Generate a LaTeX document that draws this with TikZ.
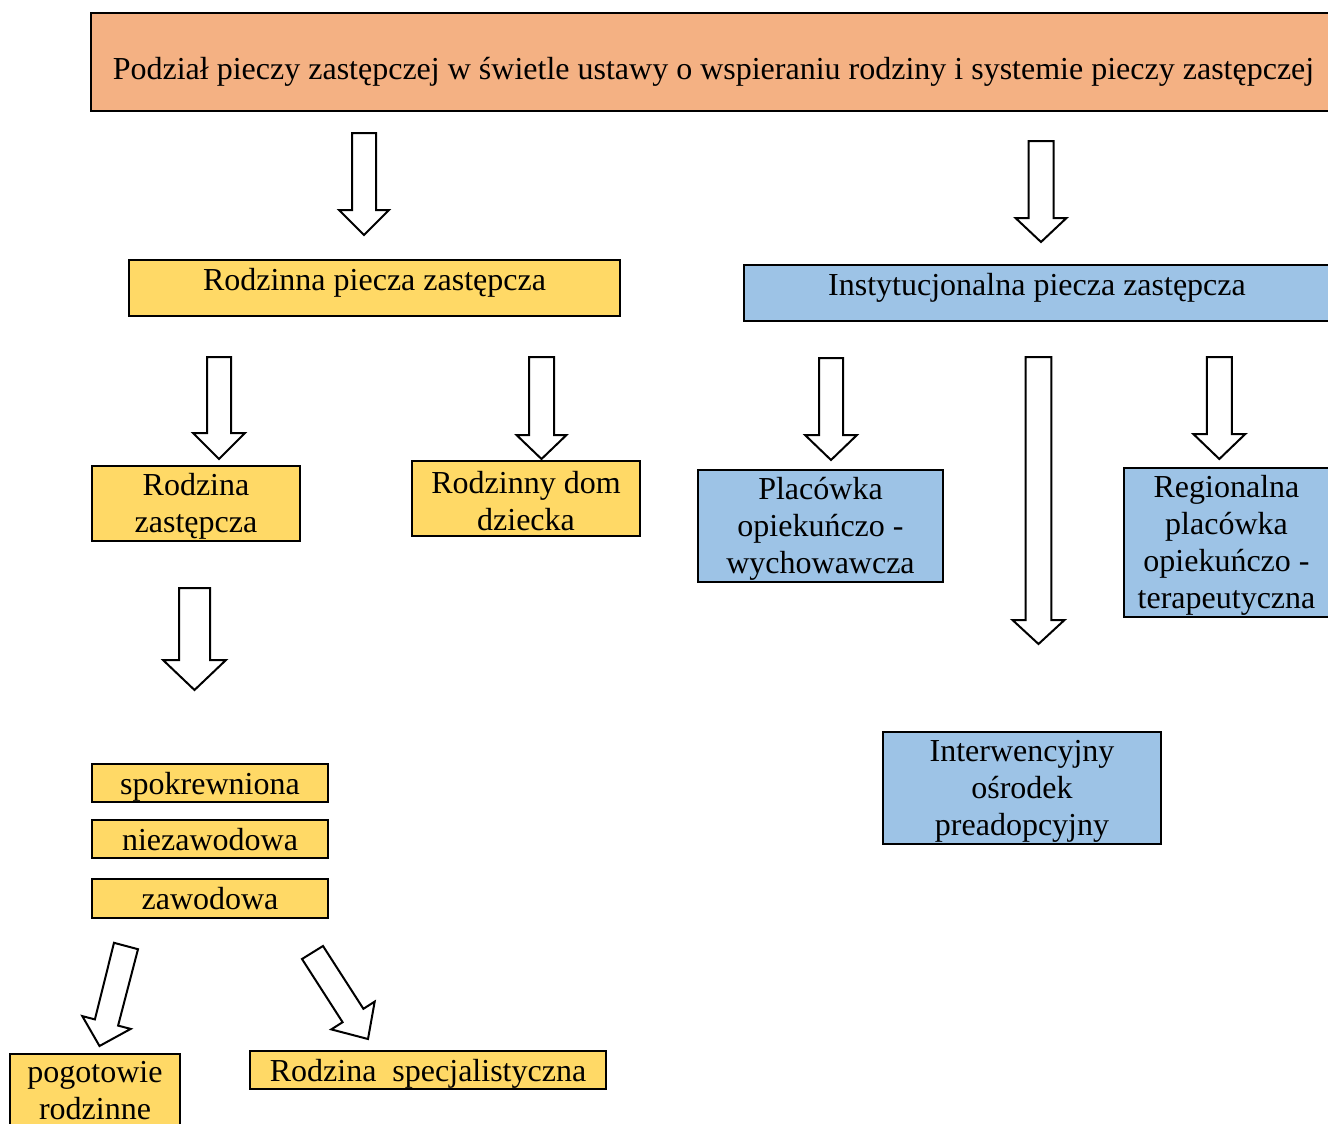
\documentclass[tikz,border=0pt]{standalone}
\usepackage{fontspec}
\setmainfont{Liberation Serif}
\definecolor{hdrfill}{HTML}{F4B183}
\definecolor{yfill}{HTML}{FFD966}
\definecolor{bfill}{HTML}{9DC3E6}
\newcommand{\mainfs}{\fontsize{16}{18.5}\selectfont}
\newcommand{\tstrut}{\rule{0pt}{14pt}}
% vertical block arrow: x, top, head start, tip, shaft half, head half
\newcommand{\varrow}[6]{%
  \draw[blockarrow] ({#1-#5},#2) -- ({#1+#5},#2) -- ({#1+#5},#3) -- ({#1+#6},#3)
    -- (#1,#4) -- ({#1-#6},#3) -- ({#1-#5},#3) -- cycle;}
\tikzset{
  boxbase/.style={draw, line width=1.3pt, inner sep=0pt, align=center, font=\mainfs},
  hdrbox/.style={boxbase, fill=hdrfill},
  ybox/.style={boxbase, fill=yfill},
  bbox/.style={boxbase, fill=bfill},
  onebase/.style={text height=5pt, text depth=3pt},
  onelow/.style={text height=12pt, text depth=1pt},
  blockarrow/.style={draw, fill=white, line width=1pt, line join=miter},
}
\begin{document}
\begin{tikzpicture}[x=0.5pt, y=-0.5pt]
\useasboundingbox (0,0) rectangle (1328,1124);
\clip (0,0) rectangle (1328,1124);
\fill[white] (0,0) rectangle (1328,1124);

% header
\node[hdrbox, minimum width=0.5*1245pt, minimum height=0.5*98pt, text height=17pt, text depth=0pt]
  (hdr) at (713.5,62) {Podział pieczy zastępczej w świetle ustawy o wspieraniu rodziny i systemie pieczy zastępczej};

% level 1
\node[ybox, onebase, minimum width=0.5*491pt, minimum height=0.5*56pt] (rpz) at (374.5,288) {Rodzinna piecza zastępcza};
\node[bbox, onebase, minimum width=0.5*586pt, minimum height=0.5*56pt] (ipz) at (1037,293) {Instytucjonalna piecza zastępcza};

% level 2
\node[ybox, minimum width=0.5*208pt, minimum height=0.5*75pt] (rz) at (196,503.5) {\tstrut Rodzina\\zastępcza};
\node[ybox, minimum width=0.5*228pt, minimum height=0.5*75pt] (rdd) at (526,498.5) {\tstrut Rodzinny dom\\dziecka};
\node[bbox, minimum width=0.5*245pt, minimum height=0.5*112pt] (pow) at (820.5,526) {\tstrut Placówka\\opiekuńczo -\\wychowawcza};
\node[bbox, minimum width=0.5*205pt, minimum height=0.5*149pt] (rpot) at (1226.5,542.5) {\tstrut Regionalna\\placówka\\opiekuńczo -\\terapeutyczna};
\node[bbox, minimum width=0.5*278pt, minimum height=0.5*112pt] (iop) at (1022,788) {\tstrut Interwencyjny\\ośrodek\\preadopcyjny};

% types of foster family
\node[ybox, onelow, minimum width=0.5*236pt, minimum height=0.5*38pt] (spok) at (210,783) {spokrewniona};
\node[ybox, onelow, minimum width=0.5*236pt, minimum height=0.5*38pt] (niez) at (210,839) {niezawodowa};
\node[ybox, onelow, minimum width=0.5*236pt, minimum height=0.5*39pt] (zaw) at (210,898.5) {zawodowa};

% bottom
\node[ybox, minimum width=0.5*170pt, minimum height=0.5*74pt] (pog) at (95,1091) {pogotowie\\rodzinne};
\node[ybox, onelow, minimum width=0.5*356pt, minimum height=0.5*38pt] (rspec) at (428,1070) {Rodzina\ \ specjalistyczna};

% block arrows
\varrow{364}{133}{210}{235}{12}{25}
\varrow{1041}{141}{218}{242}{12.5}{25.5}
\varrow{219}{357}{433}{459}{12}{26}
\varrow{541.5}{357}{435}{459}{12.5}{25}
\varrow{831}{358}{435}{460}{12}{26}
\varrow{1038.5}{357}{620}{644}{12.8}{26}
\varrow{1219.3}{357}{434}{459}{12.5}{26}
\varrow{194.5}{588}{660}{690}{15.5}{31.5}

% tilted arrows
\draw[blockarrow] (114,942.8) -- (138,949.2) -- (118.1,1025.6) -- (130.7,1028.9)
  -- (99.5,1046) -- (82.3,1016.1) -- (94.9,1019.4) -- cycle;
\draw[blockarrow] (302,959) -- (323,946) -- (363.4,1008.8) -- (374.7,1001.6)
  -- (368,1039) -- (331.3,1029.4) -- (342.6,1022.2) -- cycle;
\end{tikzpicture}
\end{document}
